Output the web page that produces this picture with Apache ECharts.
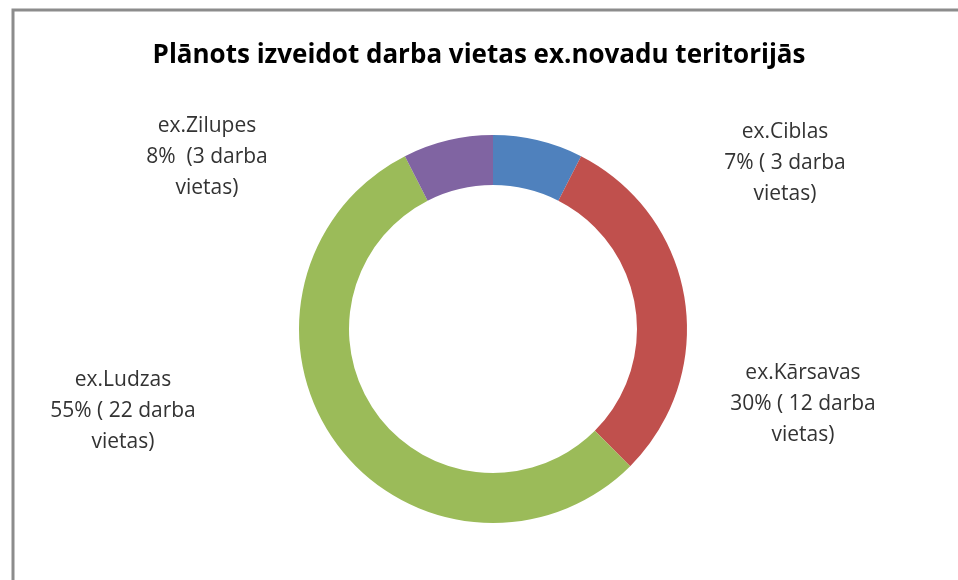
<!DOCTYPE html>
<html>
<head>
<meta charset="utf-8">
<script src="https://cdn.jsdelivr.net/npm/echarts@6/dist/echarts.min.js"></script>
<style>
    html, body { margin: 0; padding: 0; background: #fff; }
    #chart { width: 958px; height: 580px; }
</style>
</head>
<body>
<div id="chart"></div>
<script>
    // data
    const names = ['ex.Ciblas', 'ex.Kārsavas', 'ex.Ludzas', 'ex.Zilupes'];
    const jobs = [3, 12, 22, 3];
    const percents = ['7%', '30%', '55%', '8%'];
    const colors = ['#4F81BD', '#C0504D', '#9BBB59', '#8064A2'];

    // where Excel put each label (centre of the text block)
    const labelPos = {
        'ex.Ciblas': [785, 163],
        'ex.Kārsavas': [803, 404],
        'ex.Ludzas': [123, 411],
        'ex.Zilupes': [207, 157]
    };

    const labelText = {
        'ex.Ciblas': p => names[0] + '\n' + p + ' ( ' + jobs[0] + ' darba\nvietas)',
        'ex.Kārsavas': p => names[1] + '\n' + p + ' ( ' + jobs[1] + ' darba\nvietas)',
        'ex.Ludzas': p => names[2] + '\n' + p + ' ( ' + jobs[2] + ' darba\nvietas)',
        'ex.Zilupes': p => names[3] + '\n' + p + '  (' + jobs[3] + ' darba\nvietas)'
    };

    const chart = echarts.init(document.getElementById('chart'));

    const option = {
        backgroundColor: '#fff',
        animation: false,
        title: {
            text: 'Plānots izveidot darba vietas ex.novadu teritorijās',
            left: 'center',
            top: 38,
            textStyle: {
                fontFamily: 'Open Sans',
                fontWeight: 'bold',
                fontSize: 26,
                color: '#000'
            }
        },
        graphic: [
            {
                type: 'rect',
                shape: { x: 13, y: 10, width: 1000, height: 1000 },
                style: { fill: 'none', stroke: '#8c8c8c', lineWidth: 3 },
                silent: true
            }
        ],
        series: [
            {
                type: 'pie',
                center: [493, 329],
                radius: [144, 194],
                startAngle: 90,
                clockwise: true,
                avoidLabelOverlap: false,
                data: names.map((n, i) => ({
                    name: n,
                    value: jobs[i],
                    itemStyle: { color: colors[i] }
                })),
                label: {
                    show: true,
                    position: 'outside',
                    formatter: params => labelText[params.name](percents[params.dataIndex]),
                    fontFamily: 'Open Sans',
                    fontSize: 21,
                    lineHeight: 31,
                    color: '#333',
                    align: 'center'
                },
                labelLine: { show: false },
                labelLayout: params => {
                    const pos = labelPos[names[params.dataIndex]];
                    return {
                        x: pos[0],
                        y: pos[1],
                        align: 'center',
                        verticalAlign: 'middle'
                    };
                },
                emphasis: { disabled: true }
            }
        ]
    };

    chart.setOption(option);
    window.addEventListener('resize', chart.resize);
</script>
</body>
</html>
